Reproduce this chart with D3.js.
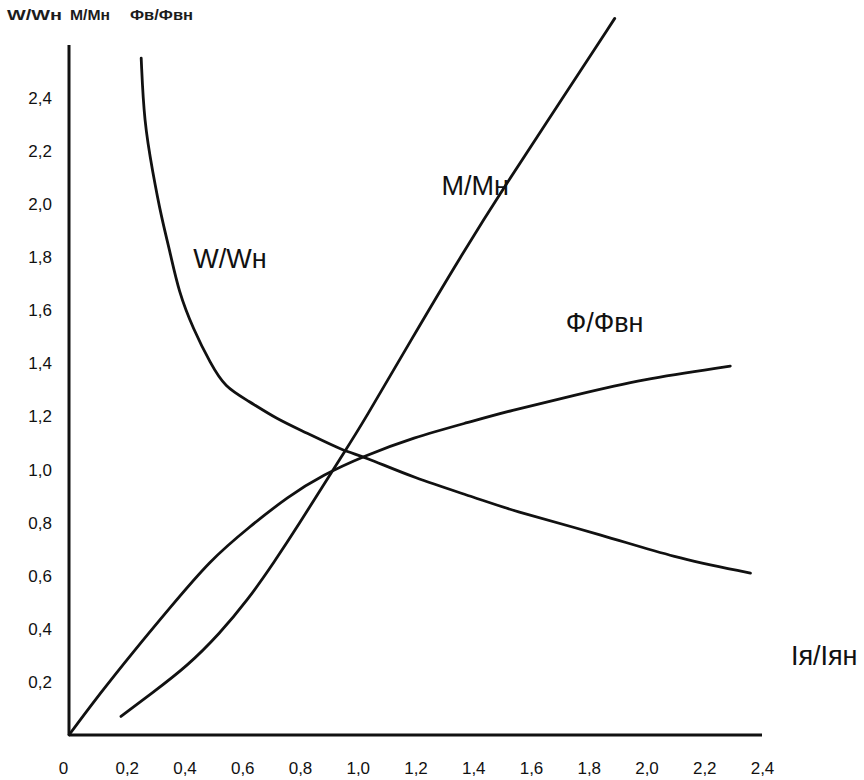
<!DOCTYPE html>
<html>
<head>
<meta charset="utf-8">
<script src="https://cdn.jsdelivr.net/npm/d3@7"></script>
<style>
  body { margin: 0; background: #fff; }
  svg { font-family: "Liberation Sans", Arial, sans-serif; }
</style>
</head>
<body>
<svg class="chart"></svg>
<script>
// tick values (both axes)
const xTicks = [0, 0.2, 0.4, 0.6, 0.8, 1.0, 1.2, 1.4, 1.6, 1.8, 2.0, 2.2, 2.4];
const yTicks = [0.2, 0.4, 0.6, 0.8, 1.0, 1.2, 1.4, 1.6, 1.8, 2.0, 2.2, 2.4];

// W/Wн - speed
const speedX = [0.25, 0.26, 0.29, 0.32, 0.35, 0.38, 0.43, 0.49, 0.54, 0.62, 0.72, 0.82, 0.95, 1.02, 1.19, 1.42, 1.52, 1.86, 2.09, 2.36];
const speedY = [2.55, 2.31, 2.12, 1.95, 1.82, 1.67, 1.53, 1.40, 1.31, 1.26, 1.19, 1.14, 1.07, 1.05, 0.97, 0.89, 0.85, 0.75, 0.67, 0.61];

// M/Mн - torque
const torqueX = [0.18, 0.29, 0.41, 0.52, 0.62, 0.71, 0.80, 0.88, 0.95, 1.02, 1.18, 1.36, 1.51, 1.71, 1.89];
const torqueY = [0.07, 0.16, 0.26, 0.38, 0.51, 0.65, 0.80, 0.94, 1.06, 1.18, 1.48, 1.81, 2.07, 2.40, 2.70];

// Ф/Фвн - flux
const fluxX = [0, 0.11, 0.22, 0.35, 0.49, 0.62, 0.76, 0.88, 1.02, 1.19, 1.39, 1.52, 1.75, 1.98, 2.29];
const fluxY = [0, 0.16, 0.31, 0.48, 0.66, 0.78, 0.90, 0.98, 1.05, 1.12, 1.18, 1.22, 1.28, 1.34, 1.39];

const curveNames = ["W/Wн", "M/Mн", "Ф/Фвн"];
const topLabels = ["W/Wн", "M/Mн", "Фв/Фвн"];
const xTitle = "Iя/Iян";

var width = 864, height = 780;

var x = d3.scaleLinear().domain([0, 2.4]).range([69, 762]);
var y = d3.scaleLinear().domain([0, 2.4]).range([735, 98]);

let svg = d3.select(".chart")
    .attr("width", width)
    .attr("height", height);

var fmt = function(d) { return d === 0 ? "0" : d.toFixed(1).replace(".", ","); };

// add the x Axis
var gx = svg.append("g")
    .attr("transform", "translate(0," + y(0) + ")")
    .call(d3.axisBottom(x).tickValues(xTicks).tickSize(0).tickPadding(27).tickFormat(fmt));
gx.select(".domain").remove();
gx.selectAll("text")
    .attr("font-size", 17)
    .attr("fill", "#111")
    .attr("dx", function(d) { return d === 0 ? -6 : 0; });

// add the y Axis
var gy = svg.append("g")
    .attr("transform", "translate(" + x(0) + ",0)")
    .call(d3.axisLeft(y).tickValues(yTicks).tickSize(0).tickPadding(17).tickFormat(fmt));
gy.select(".domain").remove();
gy.selectAll("text")
    .attr("font-size", 17)
    .attr("fill", "#111");

// axis lines
svg.append("line")
    .attr("x1", x(0)).attr("x2", x(0))
    .attr("y1", y(0)).attr("y2", y(2.6))
    .attr("stroke", "#111").attr("stroke-width", 3);
svg.append("line")
    .attr("x1", x(0)).attr("x2", x(2.4))
    .attr("y1", y(0)).attr("y2", y(0))
    .attr("stroke", "#111").attr("stroke-width", 3);

// curves
var series = [
    speedX.map(function(v, i) { return [v, speedY[i]]; }),
    torqueX.map(function(v, i) { return [v, torqueY[i]]; }),
    fluxX.map(function(v, i) { return [v, fluxY[i]]; })
];

var line = d3.line()
    .x(function(d) { return x(d[0]); })
    .y(function(d) { return y(d[1]); })
    .curve(d3.curveBasis);

svg.selectAll(".curve")
    .data(series)
    .enter().append("path")
    .attr("class", "curve")
    .attr("d", line)
    .attr("fill", "none")
    .attr("stroke", "#111")
    .attr("stroke-width", 2.8)
    .attr("stroke-linejoin", "round")
    .attr("stroke-linecap", "round");

// curve labels
var labelAt = [[0.43, 1.76], [1.29, 2.035], [1.72, 1.52]];
svg.selectAll(".clabel")
    .data(curveNames)
    .enter().append("text")
    .attr("class", "clabel")
    .attr("x", function(d, i) { return x(labelAt[i][0]); })
    .attr("y", function(d, i) { return y(labelAt[i][1]); })
    .attr("font-size", 27)
    .attr("fill", "#111")
    .text(function(d) { return d; });

svg.append("text")
    .attr("x", x(2.5))
    .attr("y", y(0.264))
    .attr("font-size", 27)
    .attr("fill", "#111")
    .text(xTitle);

// labels over the y axis
var topX = [7, 70, 130], topW = [55, 40, 63];
svg.selectAll(".tlabel")
    .data(topLabels)
    .enter().append("text")
    .attr("class", "tlabel")
    .attr("x", function(d, i) { return topX[i]; })
    .attr("y", 20)
    .attr("font-size", 14)
    .attr("font-weight", "bold")
    .attr("fill", "#1c1c1c")
    .attr("textLength", function(d, i) { return topW[i]; })
    .attr("lengthAdjust", "spacingAndGlyphs")
    .text(function(d) { return d; });
</script>
</body>
</html>
